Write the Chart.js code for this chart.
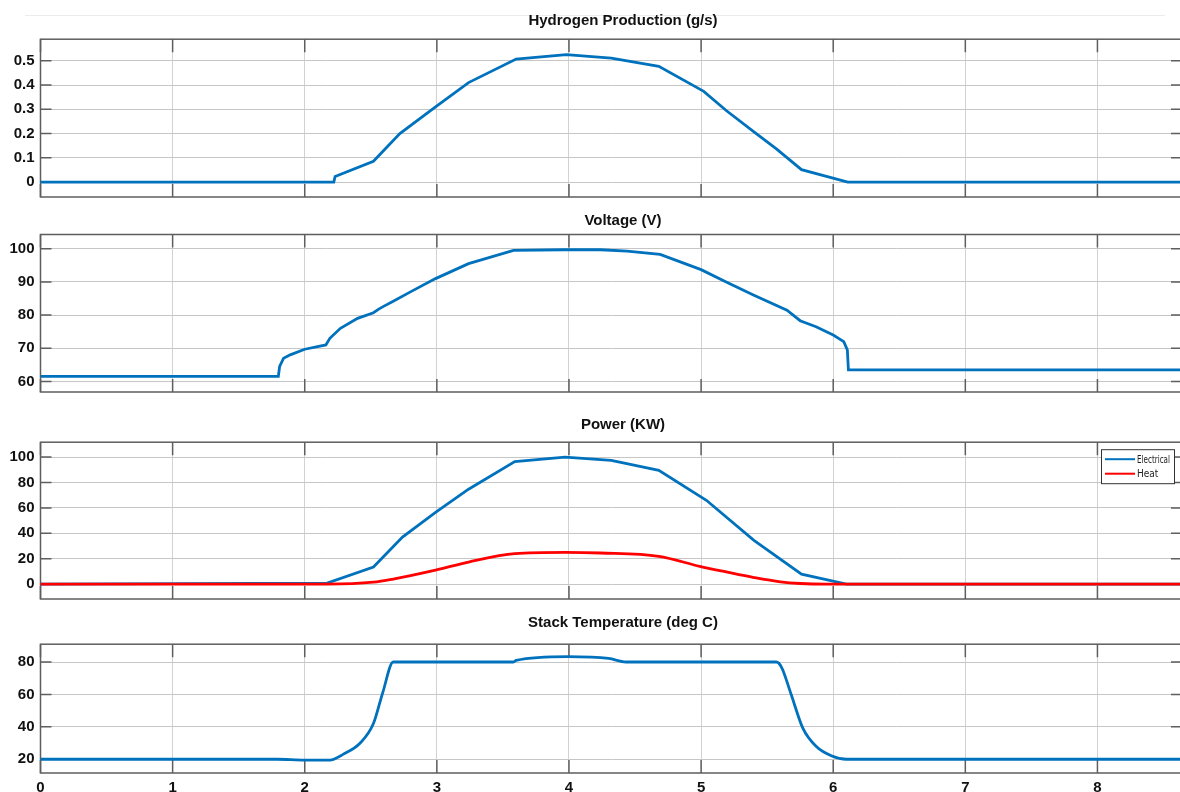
<!DOCTYPE html>
<html>
<head>
<meta charset="utf-8">
<script src="https://cdn.jsdelivr.net/npm/chart.js@4.4.1/dist/chart.umd.min.js"></script>
<style>
  html, body { margin: 0; padding: 0; background: #fff; }
  body { width: 1180px; height: 792px; overflow: hidden; position: relative; }
  canvas { position: absolute; left: 0; }
  #topline { position: absolute; left: 25px; top: 15px; width: 1140px; height: 1px; background: #ececec; }
</style>
</head>
<body>
<div id="topline"></div>
<canvas id="c1"></canvas>
<canvas id="c2"></canvas>
<canvas id="c3"></canvas>
<canvas id="c4"></canvas>
<script>
// ---------- Dades ----------
const xTicks = [0, 1, 2, 3, 4, 5, 6, 7, 8];
const xMax = 8.64;

const h2Time = [0, 2.22, 2.23, 2.52, 2.72, 2.99, 3.24, 3.60, 3.98, 4.32, 4.68, 5.02, 5.19, 5.42, 5.57, 5.76, 6.11, 8.64];
const h2Rate = [0, 0, 0.023, 0.086, 0.20, 0.31, 0.41, 0.507, 0.525, 0.511, 0.477, 0.374, 0.295, 0.199, 0.137, 0.051, 0, 0];
const h2Ticks = [0, 0.1, 0.2, 0.3, 0.4, 0.5];

const voltTime = [0, 1.80, 1.81, 1.84, 1.89, 2.0, 2.16, 2.19, 2.27, 2.40, 2.52, 2.56, 2.60, 2.67, 2.80, 2.99, 3.24, 3.58, 3.96, 4.24, 4.44, 4.69, 5.0, 5.19, 5.40, 5.65, 5.75, 5.87, 6.0, 6.08, 6.107, 6.115, 8.64];
const voltValue = [61.5, 61.5, 64.5, 67, 68, 69.7, 71, 73, 76, 79, 80.7, 81.8, 82.7, 84.2, 87, 91, 95.5, 99.5, 99.7, 99.7, 99.3, 98.3, 93.7, 90, 86, 81.5, 78.3, 76.5, 74, 72, 69.5, 63.5, 63.5];
const voltTicks = [60, 70, 80, 90, 100];

const powTime = [0, 2.17, 2.52, 2.74, 2.99, 3.24, 3.59, 3.97, 4.32, 4.68, 5.04, 5.40, 5.76, 6.10, 8.64];
const powElec = [0, 0.8, 13.5, 37, 56.5, 74.7, 96.4, 100, 97.4, 89.6, 66, 34.4, 7.8, 0, 0];
const heatTime = [0, 2.17, 2.52, 2.67, 2.99, 3.24, 3.59, 3.97, 4.24, 4.68, 4.99, 5.19, 5.40, 5.60, 5.75, 5.95, 8.64];
const heatValue = [0, 0, 1.5, 4, 11, 17.4, 24, 25, 24.5, 21.9, 14, 9.6, 5.2, 1.8, 0.5, 0, 0];
const powTicks = [0, 20, 40, 60, 80, 100];

const tempTime = [0, 1.79, 2.0, 2.19, 2.29, 2.42, 2.52, 2.59, 2.67, 3.58, 3.60, 3.99, 4.30, 4.43, 5.57, 5.61, 5.68, 5.77, 5.87, 5.99, 6.10, 8.64];
const tempValue = [20, 20, 19.5, 19.5, 23, 30, 42, 61, 80, 80, 81, 83.3, 82.2, 80, 80, 76.6, 60.4, 39.2, 28, 22, 20, 20];
const tempTicks = [20, 40, 60, 80];

const BLUE = '#0072BD';
const RED = '#FF0000';
const FONT = '"Liberation Sans", Arial, sans-serif';

function pts(xs, ys) {
  return xs.map((x, i) => ({ x: x, y: ys[i] }));
}

// ---------- Caixa i marques cap endins ----------
const boxPlugin = {
  id: 'matlabBox',
  beforeDatasetsDraw(chart) {
    const { ctx, chartArea: a, scales } = chart;
    ctx.save();
    ctx.strokeStyle = '#5e5e5e';
    ctx.lineWidth = 1.5;
    ctx.beginPath();
    scales.x.ticks.forEach(t => {
      const px = scales.x.getPixelForValue(t.value);
      ctx.moveTo(px, a.top); ctx.lineTo(px, a.top + 13);
      ctx.moveTo(px, a.bottom); ctx.lineTo(px, a.bottom - 13);
    });
    scales.y.ticks.forEach(t => {
      const py = scales.y.getPixelForValue(t.value);
      ctx.moveTo(a.left, py); ctx.lineTo(a.left + 11, py);
      ctx.moveTo(a.right, py); ctx.lineTo(a.right - 11, py);
    });
    ctx.stroke();
    ctx.strokeRect(a.left, a.top, a.right - a.left, a.bottom - a.top);
    ctx.restore();
  }
};

// ---------- Llegenda dins del gràfic ----------
const legendPlugin = {
  id: 'boxLegend',
  afterDatasetsDraw(chart) {
    const { ctx, chartArea: a } = chart;
    const w = 73, h = 34;
    const x = a.right - 8 - w, y = a.top + 7;
    ctx.save();
    ctx.fillStyle = '#fff';
    ctx.fillRect(x, y, w, h);
    ctx.strokeStyle = '#333';
    ctx.lineWidth = 1;
    ctx.strokeRect(x + 0.5, y + 0.5, w, h);
    ctx.font = '10px "Liberation Sans Narrow", "DejaVu Sans Condensed", sans-serif';
    ctx.textBaseline = 'middle';
    chart.data.datasets.forEach((ds, i) => {
      const ly = y + 10 + i * 14.5;
      ctx.strokeStyle = ds.borderColor;
      ctx.lineWidth = 2;
      ctx.beginPath();
      ctx.moveTo(x + 4, ly);
      ctx.lineTo(x + 34, ly);
      ctx.stroke();
      ctx.fillStyle = '#222';
      ctx.fillText(ds.label, x + 36, ly + 1, 33);
    });
    ctx.restore();
  }
};

function makeChart(id, cfg) {
  const canvas = document.getElementById(id);
  canvas.width = 1246;
  canvas.height = cfg.height;
  canvas.style.top = cfg.top + 'px';

  return new Chart(canvas.getContext('2d'), {
    type: 'line',
    data: { datasets: cfg.datasets },
    plugins: cfg.legend ? [boxPlugin, legendPlugin] : [boxPlugin],
    options: {
      responsive: false,
      animation: false,
      devicePixelRatio: 1,
      layout: { padding: { bottom: cfg.padBottom } },
      elements: { point: { radius: 0 } },
      plugins: {
        legend: { display: false },
        tooltip: { enabled: false },
        title: {
          display: true,
          text: cfg.title,
          color: '#111',
          font: { family: FONT, size: 15, weight: 'bold', lineHeight: 1.2 },
          padding: { top: 0, bottom: cfg.titleGap }
        }
      },
      scales: {
        x: {
          type: 'linear',
          min: 0,
          max: xMax,
          afterBuildTicks: s => { s.ticks = xTicks.map(v => ({ value: v })); },
          afterFit: s => { s.height = cfg.xAxisHeight; s.paddingLeft = 0; s.paddingRight = 0; },
          grid: { color: '#d2d2d2', lineWidth: 1, drawTicks: false },
          border: { display: false },
          ticks: {
            display: cfg.showX,
            padding: 6,
            color: '#111',
            font: { family: FONT, size: 15, weight: 'bold' },
            callback: v => String(v)
          }
        },
        y: {
          type: 'linear',
          min: cfg.yMin,
          max: cfg.yMax,
          afterBuildTicks: s => { s.ticks = cfg.yTicks.map(v => ({ value: v })); },
          afterFit: s => { s.width = 40.5; s.paddingTop = 0; s.paddingBottom = 0; },
          grid: { color: '#c6c6c6', lineWidth: 1, drawTicks: false },
          border: { display: false },
          ticks: {
            padding: 6,
            color: '#111',
            font: { family: FONT, size: 15, weight: 'bold' },
            callback: v => String(v)
          }
        },
        yR: {
          type: 'linear',
          position: 'right',
          afterFit: s => { s.width = 64; s.paddingTop = 0; s.paddingBottom = 0; },
          grid: { display: false },
          border: { display: false },
          ticks: { display: false }
        }
      }
    }
  });
}

function line(label, xs, ys, color, smooth, order) {
  return {
    label: label,
    data: pts(xs, ys),
    borderColor: color,
    borderWidth: 2.8,
    tension: smooth ? 0.4 : 0,
    cubicInterpolationMode: smooth ? 'monotone' : 'default',
    fill: false,
    order: order || 0
  };
}

makeChart('c1', {
  top: 12, height: 187, padBottom: 2, titleGap: 9.2, xAxisHeight: 0, showX: false,
  title: 'Hydrogen Production (g/s)',
  yMin: -0.0616, yMax: 0.589, yTicks: h2Ticks,
  datasets: [line('Hydrogen', h2Time, h2Rate, BLUE, false)]
});

makeChart('c2', {
  top: 212, height: 182, padBottom: 2, titleGap: 4.5, xAxisHeight: 0, showX: false,
  title: 'Voltage (V)',
  yMin: 56.8, yMax: 104.3, yTicks: voltTicks,
  datasets: [line('Voltage', voltTime, voltValue, BLUE, false)]
});

// el vermell (Heat) va per damunt del blau
makeChart('c3', {
  top: 416, height: 185, padBottom: 2, titleGap: 8.2, xAxisHeight: 0, showX: false,
  title: 'Power (KW)', legend: true,
  yMin: -11.7, yMax: 111.7, yTicks: powTicks,
  datasets: [
    line('Electrical', powTime, powElec, BLUE, false, 1),
    line('Heat', heatTime, heatValue, RED, true, 0)
  ]
});

makeChart('c4', {
  top: 614, height: 178, padBottom: 0, titleGap: 12.2, xAxisHeight: 19, showX: true,
  title: 'Stack Temperature (deg C)',
  yMin: 11.5, yMax: 91, yTicks: tempTicks,
  datasets: [line('Temperature', tempTime, tempValue, BLUE, true)]
});
</script>
</body>
</html>
